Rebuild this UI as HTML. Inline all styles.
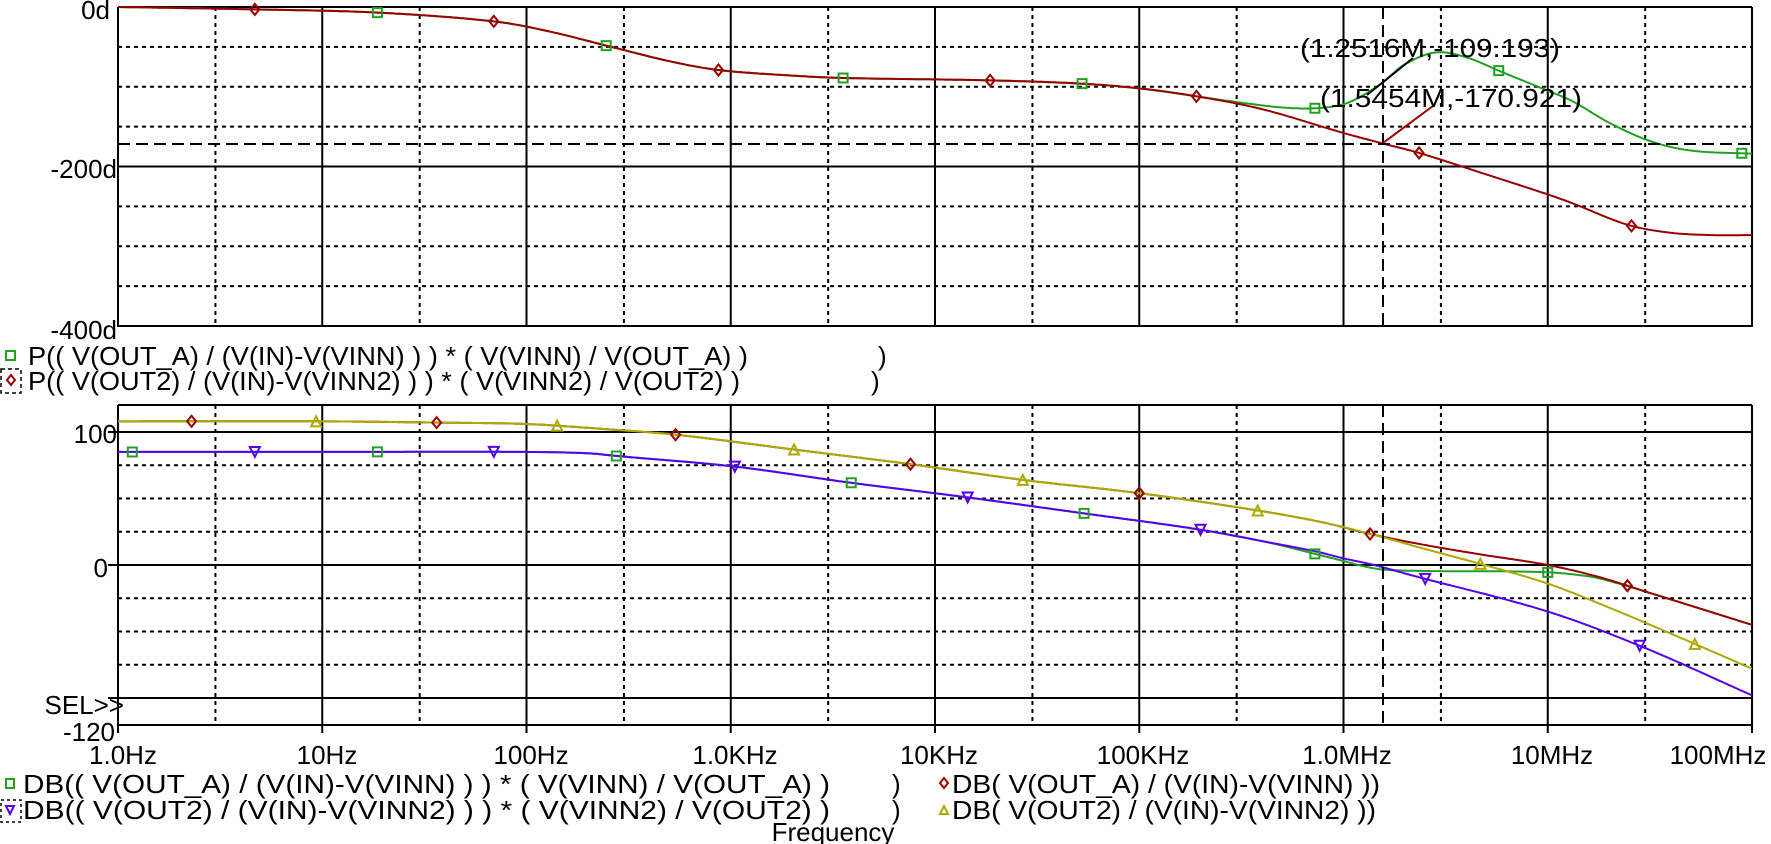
<!DOCTYPE html>
<html><head><meta charset="utf-8"><style>
html,body{margin:0;padding:0;background:#fff;}
svg{display:block;}
text{font-family:"Liberation Sans",sans-serif;font-size:26px;fill:#000;}
</style></head><body>
<svg id="s" width="1771" height="844" viewBox="0 0 1771 844" xmlns="http://www.w3.org/2000/svg">
<g id="grid" stroke="#000" stroke-width="2" fill="none"></g>
<g id="curves" fill="none" stroke-width="2"></g>
<g id="marks" fill="none" stroke-width="2"></g>
<line x1="1383" y1="7" x2="1383" y2="327" stroke="#000" stroke-width="2" stroke-dasharray="12,6"/>
<line x1="1383" y1="405" x2="1383" y2="725" stroke="#000" stroke-width="2" stroke-dasharray="12,6"/>
<line x1="118" y1="144" x2="1752" y2="144" stroke="#000" stroke-width="2" stroke-dasharray="12,6"/>
<line x1="1367" y1="95" x2="1413" y2="58" stroke="#000" stroke-width="2"/>
<line x1="1383" y1="143" x2="1433" y2="106" stroke="#990000" stroke-width="2"/>
<text x="1300" y="57" textLength="260" lengthAdjust="spacingAndGlyphs">(1.2516M,-109.193)</text>
<text x="1320" y="107" textLength="262" lengthAdjust="spacingAndGlyphs">(1.5454M,-170.921)</text>
<text x="110" y="19" text-anchor="end">0d</text>
<text x="117" y="178" text-anchor="end">-200d</text>
<text x="117" y="339" text-anchor="end">-400d</text>
<text x="117" y="443" text-anchor="end">100</text>
<text x="108" y="577" text-anchor="end">0</text>
<text x="124" y="714" text-anchor="end">SEL&gt;&gt;</text>
<text x="115" y="741" text-anchor="end">-120</text>
<text x="123" y="764" text-anchor="middle">1.0Hz</text>
<text x="327" y="764" text-anchor="middle">10Hz</text>
<text x="531" y="764" text-anchor="middle">100Hz</text>
<text x="735" y="764" text-anchor="middle">1.0KHz</text>
<text x="939" y="764" text-anchor="middle">10KHz</text>
<text x="1143" y="764" text-anchor="middle">100KHz</text>
<text x="1347" y="764" text-anchor="middle">1.0MHz</text>
<text x="1552" y="764" text-anchor="middle">10MHz</text>
<text x="1718" y="764" text-anchor="middle">100MHz</text>
<text x="833" y="841" text-anchor="middle">Frequency</text>
<rect x="6" y="351" width="9" height="9" fill="none" stroke="#22a022" stroke-width="2"/>
<text x="28" y="365" textLength="720" lengthAdjust="spacingAndGlyphs">P(( V(OUT_A) / (V(IN)-V(VINN) ) )  *  ( V(VINN) / V(OUT_A) )</text>
<text x="878" y="365">)</text>
<rect x="1" y="369" width="20" height="24" fill="none" stroke="#000" stroke-width="1.5" stroke-dasharray="4,3"/>
<path d="M11,375 L15,380 L11,385 L7,380 Z" fill="none" stroke="#990000" stroke-width="2"/>
<text x="28" y="390" textLength="712" lengthAdjust="spacingAndGlyphs">P(( V(OUT2) / (V(IN)-V(VINN2) ) )  *  ( V(VINN2) / V(OUT2) )</text>
<text x="871" y="390">)</text>
<rect x="6" y="779" width="8" height="9" fill="none" stroke="#22a022" stroke-width="2"/>
<text x="23" y="793" textLength="807" lengthAdjust="spacingAndGlyphs">DB(( V(OUT_A) / (V(IN)-V(VINN) ) )  *  ( V(VINN) / V(OUT_A) )</text>
<text x="892" y="793">)</text>
<path d="M944,778 L948,783 L944,788 L940,783 Z" fill="none" stroke="#990000" stroke-width="2"/>
<text x="952" y="793" textLength="428" lengthAdjust="spacingAndGlyphs">DB( V(OUT_A) / (V(IN)-V(VINN) ))</text>
<rect x="1" y="800" width="20" height="22" fill="none" stroke="#000" stroke-width="1.5" stroke-dasharray="3,3"/>
<path d="M6,806 L14,806 L10,814 Z" fill="none" stroke="#5500ee" stroke-width="2"/>
<text x="23" y="819" textLength="807" lengthAdjust="spacingAndGlyphs">DB(( V(OUT2) / (V(IN)-V(VINN2) ) )  *  ( V(VINN2) / V(OUT2) )</text>
<text x="892" y="819">)</text>
<path d="M940,814 L948,814 L944,806 Z" fill="none" stroke="#aaaa00" stroke-width="2"/>
<text x="952" y="819" textLength="424" lengthAdjust="spacingAndGlyphs">DB( V(OUT2) / (V(IN)-V(VINN2) ))</text>
</svg>
<script>
var NS="http://www.w3.org/2000/svg";
function X(l){return 118+204.25*l;}
function YT(d){return 7-d*0.7975;}
function YB(d){return 565-d*1.33;}
function el(p,tag,a){var e=document.createElementNS(NS,tag);for(var k in a)e.setAttribute(k,a[k]);p.appendChild(e);return e;}
var G=document.getElementById('grid');
for(var k=0;k<=8;k++){
 el(G,'line',{x1:X(k),y1:7,x2:X(k),y2:327});
 el(G,'line',{x1:X(k),y1:405,x2:X(k),y2:733});
 if(k<8){
  el(G,'line',{x1:X(k+0.477),y1:7,x2:X(k+0.477),y2:327,'stroke-dasharray':'4,4'});
  el(G,'line',{x1:X(k+0.477),y1:405,x2:X(k+0.477),y2:725,'stroke-dasharray':'4,4'});
 }
}
[0,-200,-400].forEach(function(d){el(G,'line',{x1:118,y1:YT(d),x2:1752,y2:YT(d)});});
[-50,-100,-150,-250,-300,-350].forEach(function(d){el(G,'line',{x1:118,y1:YT(d),x2:1752,y2:YT(d),'stroke-dasharray':'4,4'});});
el(G,'line',{x1:118,y1:405,x2:1752,y2:405});
el(G,'line',{x1:118,y1:725,x2:1752,y2:725});
[100,0,-100].forEach(function(d){el(G,'line',{x1:108,y1:YB(d),x2:1752,y2:YB(d)});});
[75,50,25,-25,-50,-75].forEach(function(d){el(G,'line',{x1:118,y1:YB(d),x2:1752,y2:YB(d),'stroke-dasharray':'4,4'});});

function interp(pts,l){
 var n=pts.length;
 if(l<=pts[0][0])return pts[0][1];
 if(l>=pts[n-1][0])return pts[n-1][1];
 var i=0;while(pts[i+1][0]<l)i++;
 var p0=pts[Math.max(i-1,0)],p1=pts[i],p2=pts[i+1],p3=pts[Math.min(i+2,n-1)];
 var h=p2[0]-p1[0],t=(l-p1[0])/h;
 var m1=(p2[1]-p0[1])/(p2[0]-p0[0]||1)*h, m2=(p3[1]-p1[1])/(p3[0]-p1[0]||1)*h;
 var t2=t*t,t3=t2*t;
 return (2*t3-3*t2+1)*p1[1]+(t3-2*t2+t)*m1+(-2*t3+3*t2)*p2[1]+(t3-t2)*m2;
}
var C=document.getElementById('curves'),M=document.getElementById('marks');
function curve(pts,Y,col){
 var d='';for(var l=0;l<=8.0001;l+=0.01){d+=(d?'L':'M')+X(l).toFixed(1)+','+Y(interp(pts,l)).toFixed(1);}
 el(C,'path',{d:d,stroke:col});
}
function mark(pts,Y,col,type,ls){
 ls.forEach(function(l){var x=X(l),y=Y(interp(pts,l)),d;
  if(type=='sq')d='M'+(x-4.5)+','+(y-4.5)+'h9v9h-9z';
  else if(type=='di')d='M'+x+','+(y-5.5)+'L'+(x+4.5)+','+y+'L'+x+','+(y+5.5)+'L'+(x-4.5)+','+y+'Z';
  else if(type=='dn')d='M'+(x-5)+','+(y-5)+'L'+(x+5)+','+(y-5)+'L'+x+','+(y+5)+'Z';
  else d='M'+(x-5)+','+(y+5)+'L'+(x+5)+','+(y+5)+'L'+x+','+(y-5)+'Z';
  el(M,'path',{d:d,stroke:col});});
}
var GR='#22a022',RD='#990000',YL='#aaaa00',BL='#5500ee';
var redP=[[0,0],[0.67,-3],[1.27,-7],[1.84,-18],[2.1,-30],[2.4,-49],[2.7,-68],[2.94,-79],[3.3,-86],[3.55,-89],[4.27,-92],[4.71,-96],[5.0,-102],[5.28,-112],[5.6,-128],[6,-158],[6.19,-171],[6.37,-183],[6.7,-210],[7.0,-235],[7.12,-246],[7.39,-273],[7.6,-283],[7.8,-286],[8,-286]];
var grnP=redP.slice(0,14).concat([[5.5,-120],[5.7,-126],[5.86,-127],[6,-122],[6.1,-110],[6.19,-95],[6.3,-72],[6.45,-57],[6.6,-63],[6.78,-82],[7.0,-105],[7.12,-118],[7.3,-145],[7.5,-168],[7.7,-180],[8,-184]]);
curve(grnP,YT,GR);curve(redP,YT,RD);
mark(grnP,YT,GR,'sq',[1.27,2.39,3.55,4.72,5.86,6.76,7.95]);
mark(redP,YT,RD,'di',[0.67,1.84,2.94,4.27,5.28,6.37,7.41]);
var yel=[[0,108],[1,108],[1.6,107],[2,106],[2.4,102],[2.73,98],[3.3,87],[3.87,76],[4.43,64],[5.0,54],[5.58,41],[5.9,32],[6.14,23],[6.4,12],[6.69,0],[7,-14],[7.3,-32],[7.73,-60],[8,-78]];
var red=yel.slice(0,12).concat([[6.14,23],[6.4,15],[6.69,7.5],[7,0],[7.25,-9],[7.5,-21],[8,-45]]);
var blu=[[0,85],[1,85],[2,85],[2.3,84],[2.44,82],[3.02,74],[3.58,62],[4.15,51],[4.72,39],[5.28,27],[5.6,18],[5.87,10],[6.0,5],[6.15,0],[6.34,-8],[7,-35],[7.47,-62],[8,-98]];
var grn=blu.slice(0,11).concat([[5.87,8],[6.0,3],[6.1,-1],[6.2,-3.5],[6.4,-4.5],[6.8,-4.8],[7.0,-5.5],[7.12,-7],[7.25,-10],[7.5,-21],[8,-45]]);
curve(grn,YB,GR);curve(red,YB,RD);curve(blu,YB,BL);curve(yel,YB,YL);
mark(grn,YB,GR,'sq',[0.07,1.27,2.44,3.59,4.73,5.86,7.0]);
mark(blu,YB,BL,'dn',[0.67,1.84,3.02,4.16,5.3,6.4,7.45]);
mark(red,YB,RD,'di',[0.36,1.56,2.73,3.88,5.0,6.13,7.39]);
mark(yel,YB,YL,'up',[0.97,2.15,3.31,4.43,5.58,6.67,7.72]);
</script>
</body></html>
